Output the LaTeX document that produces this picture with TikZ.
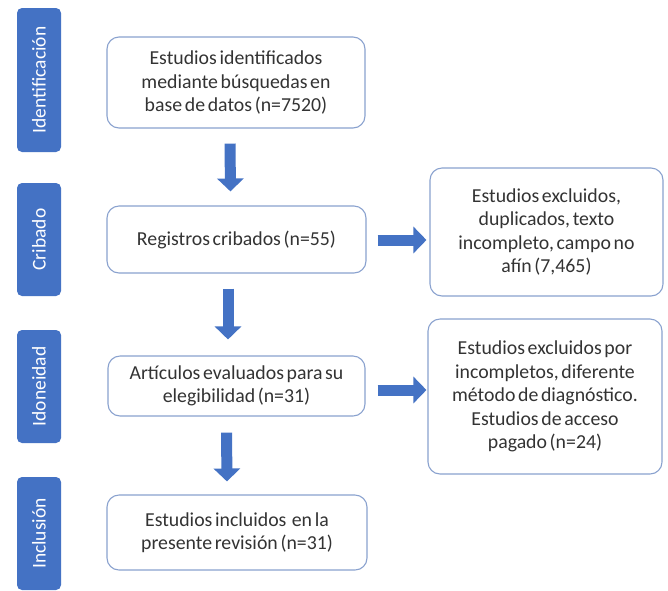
\documentclass[tikz,border=0pt]{standalone}
\usepackage{fontspec}
\setmainfont{Carlito}[WordSpace=0.6]
\usetikzlibrary{arrows.meta,calc}
\definecolor{lblblue}{HTML}{4472C4}
\definecolor{arrblue}{HTML}{4472C4}
\definecolor{edgeblue}{HTML}{8AA2CF}
\definecolor{txt}{HTML}{333333}
\begin{document}
\begin{tikzpicture}[x=1pt,y=-1pt,
  stage/.style={draw=none, fill=lblblue, rounded corners=5pt, text=white, rotate=90,
    font=\fontsize{19.5}{22}\selectfont, inner sep=0pt, minimum height=44pt},
  box/.style={draw=edgeblue, line width=1.1pt, fill=white, rounded corners=12pt, align=center,
    text=txt, font=\fontsize{19.8}{23.5}\selectfont, inner sep=0pt},
  blk/.style={draw=arrblue, line width=11pt, -{Triangle[width=26pt,length=13pt]}}
]
\useasboundingbox (0,0) rectangle (668,590);
\fill[white] (0,0) rectangle (668,590);

\node[stage, minimum width=144pt] (s1) at (39,80) {Identificación};
\node[stage, minimum width=113pt] (s2) at (39,239.5) {Cribado};
\node[stage, minimum width=113pt] (s3) at (39,386.5) {Idoneidad};
\node[stage, minimum width=113pt] (s4) at (39,533.5) {Inclusión};

\node[box, minimum width=258pt, minimum height=91pt] (b1) at (236,82.5)
  {Estudios identificados\\mediante búsquedas en\\base de datos (n=7520)};
\node[box, minimum width=259pt, minimum height=67pt] (b2) at (236.5,239.5)
  {Registros cribados (n=55)};
\node[box, minimum width=257pt, minimum height=60pt] (b3) at (236.5,386)
  {Artículos evaluados para su\\elegibilidad (n=31)};
\node[box, minimum width=260pt, minimum height=75pt] (b4) at (237,532.5)
  {Estudios incluidos\ \ en la\\presente revisión (n=31)};
\node[box, minimum width=233pt, minimum height=128pt] (e1) at (546.5,232)
  {Estudios excluidos,\\duplicados, texto\\incompleto, campo no\\afín (7,465)};
\node[box, minimum width=234pt, minimum height=155pt] (e2) at (545,396.5)
  {Estudios excluidos por\\incompletos, diferente\\método de diagnóstico.\\Estudios de acceso\\pagado (n=24)};

\draw[blk] ([xshift=-6pt,yshift=-15pt]b1.south) -- ([xshift=-6pt,yshift=14pt]b2.north);
\draw[blk] ([xshift=-8.5pt,yshift=-15pt]b2.south) -- ([xshift=-8.5pt,yshift=16pt]b3.north);
\draw[blk] ([xshift=-10pt,yshift=-16pt]b3.south) -- ([xshift=-10pt,yshift=13pt]b4.north);
\draw[blk] ($(b2.east)+(11,0.5)$) -- ($(e1.west|-b2.east)+(-3,0.5)$);
\draw[blk] ($(b3.east)+(12,4)$) -- ($(e2.west|-b3.east)+(-1,4)$);
\end{tikzpicture}
\end{document}
